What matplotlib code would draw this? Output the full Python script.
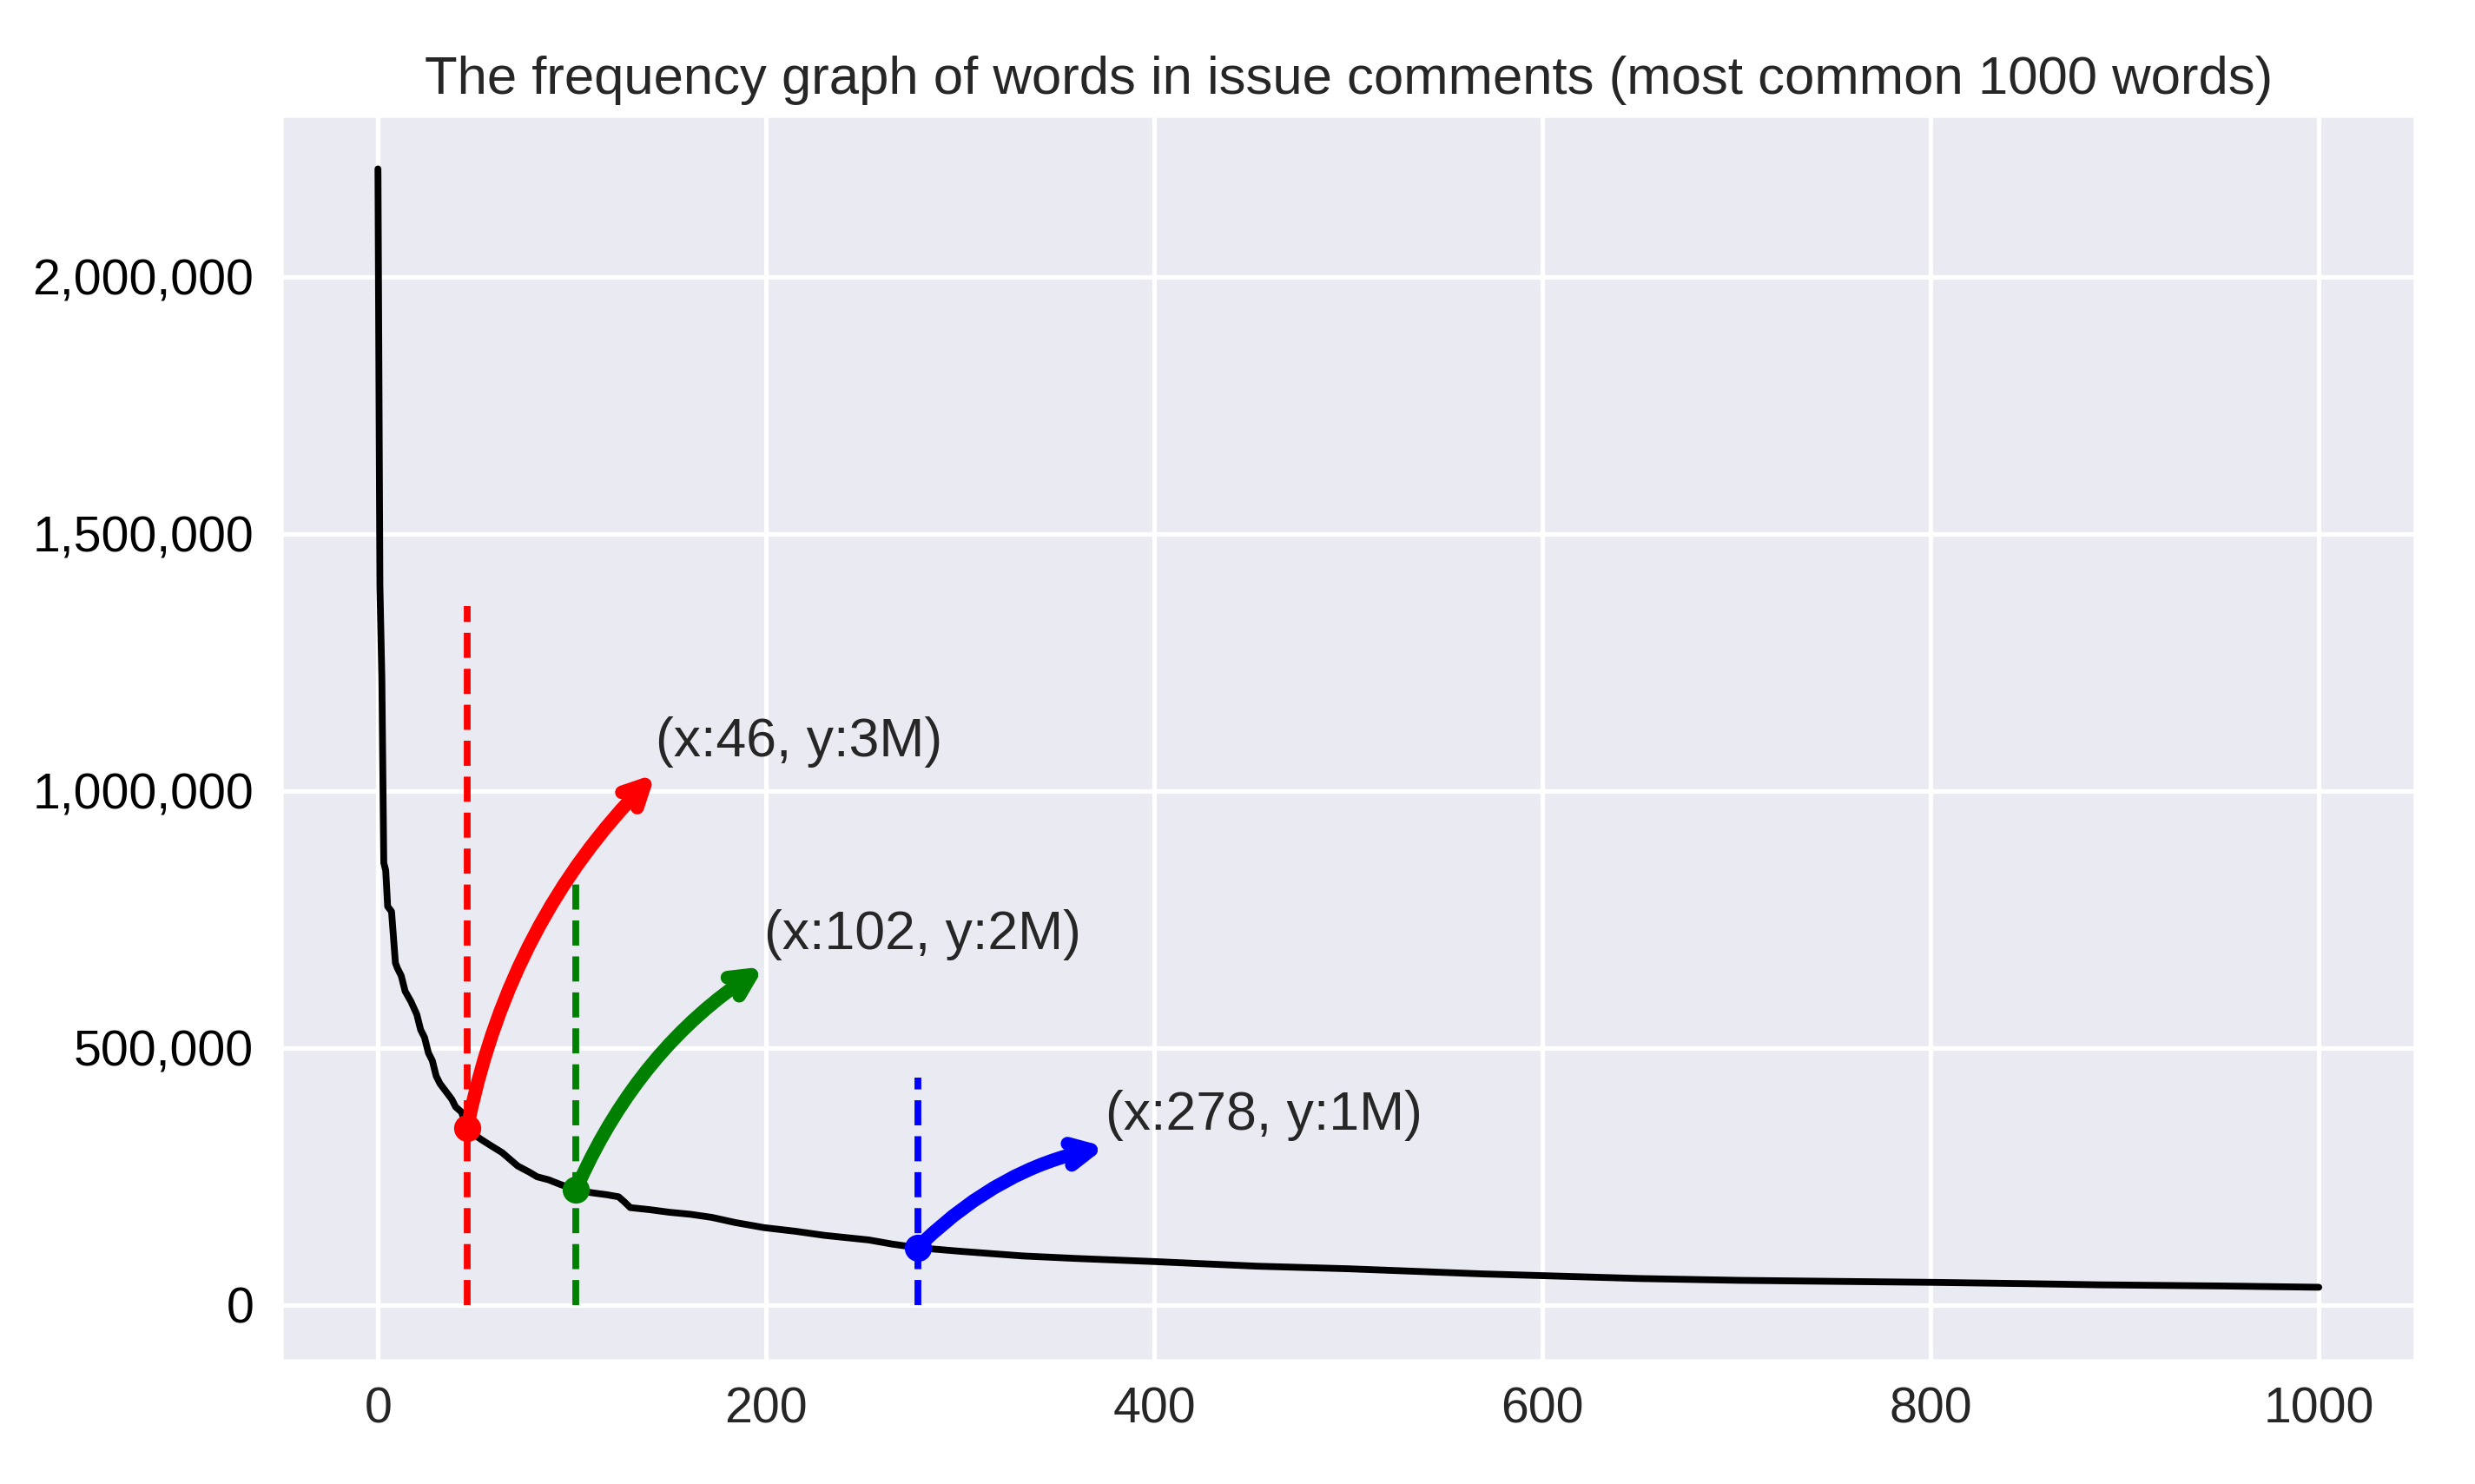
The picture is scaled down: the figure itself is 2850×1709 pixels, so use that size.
import matplotlib
matplotlib.use('Agg')
import matplotlib.pyplot as plt
import seaborn as sns
from matplotlib.ticker import FuncFormatter

# word rank (0 = most common) and how often the word shows up in comments
rank = [0, 1, 2, 3, 4, 5, 7, 9, 10, 12, 14, 17, 20, 22, 24, 26, 28, 30, 32,
        35, 38, 40, 43, 46, 50, 53, 58, 64, 68, 72, 78, 82, 88, 94, 102, 110,
        118, 124, 127, 130, 140, 150, 161, 172, 184, 199, 215, 230, 253, 265,
        278, 300, 332, 360, 400, 453, 500, 569, 601, 650, 701, 750, 802, 850,
        886, 950, 1000]
count = [2210000, 1400000, 1220000, 860000, 845000, 775000, 765000, 665000,
         655000, 640000, 610000, 590000, 565000, 535000, 520000, 490000,
         475000, 445000, 430000, 415000, 400000, 385000, 375000, 344000,
         330000, 322000, 310000, 296000, 283000, 270000, 258000, 249000,
         243000, 234000, 223600, 218000, 214000, 210000, 200000, 189000,
         185000, 180000, 176000, 170000, 160000, 150000, 143000, 135000,
         126000, 118000, 111000, 104000, 95000, 90000, 84000, 75000, 70000,
         60000, 56500, 51000, 47500, 45500, 43500, 41000, 38800, 36500, 34000]

# highlighted points
mark_x = [46, 102, 278]
mark_y = [344000, 223600, 111000]
mark_top = [1360000, 862000, 442000]
mark_colors = ['red', 'green', 'blue']
mark_labels = ['(x:46, y:3M)', '(x:102, y:2M)', '(x:278, y:1M)']
label_x = [143, 199, 375]
label_y = [1067000, 692000, 341000]

sns.set_theme(style='darkgrid')
plt.rcParams['font.family'] = ['Liberation Sans', 'DejaVu Sans']

fig = plt.figure(figsize=(2850 / 375, 1709 / 375), dpi=375)
ax = fig.add_axes([0.1135, 0.0827, 0.8626, 0.8402])

ax.plot(rank, count, color='black', lw=1.5)

for i in range(len(mark_x)):
    c = mark_colors[i]
    ax.vlines(mark_x[i], 0, mark_top[i], colors=c, linestyles='--', lw=1.5)
    ax.annotate(mark_labels[i], xy=(mark_x[i], mark_y[i]),
                xytext=(label_x[i], label_y[i]), fontsize=12, color='.15',
                arrowprops=dict(arrowstyle='<-', color=c, lw=3, relpos=(0, -0.12),
                                patchA=None, shrinkA=0,
                                connectionstyle='arc3,rad=0.15'))
    ax.plot(mark_x[i], mark_y[i], 'o', color=c, ms=6, mew=0)

ax.set_xlim(-50, 1050)
ax.set_ylim(-110000, 2316000)
ax.yaxis.set_major_formatter(FuncFormatter(lambda v, p: '{:,.0f}'.format(v)))
ax.tick_params(axis='x', length=0, labelsize=11, pad=5.5, labelcolor='.15')
ax.tick_params(axis='y', length=0, labelsize=11, pad=6, labelcolor='black')
ax.set_title('The frequency graph of words in issue comments (most common 1000 words)',
             fontsize=11.85, color='.15', pad=4.5)

plt.savefig('out.png', dpi=375)
